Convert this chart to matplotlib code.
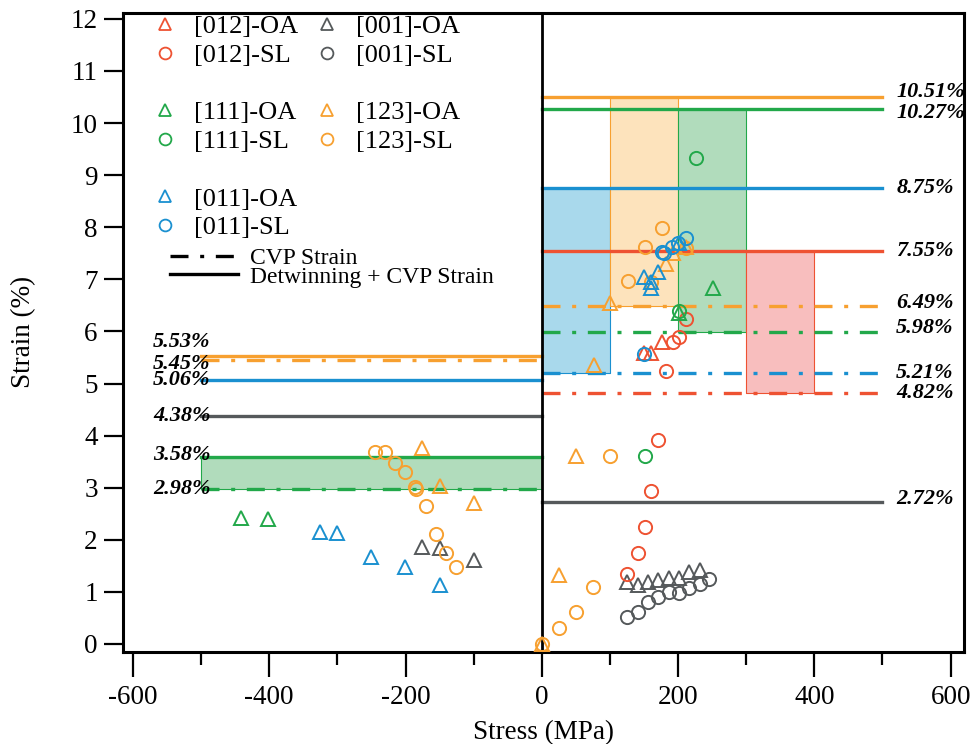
import numpy as np
import matplotlib.pyplot as plt
from matplotlib.lines import Line2D

plt.rcParams['font.family'] = ['Liberation Serif', 'DejaVu Serif']
plt.rcParams['axes.unicode_minus'] = False

RED = '#EE5232'
GRAY = '#55595B'
GREEN = '#22A84A'
ORANGE = '#F7A030'
BLUE = '#1A90D0'

# strain levels (right = tension side, left = compression side)
right_vals = [10.51, 10.27, 8.75, 7.55, 6.49, 5.98, 5.21, 4.82, 2.72]
right_cols = [ORANGE, GREEN, BLUE, RED, ORANGE, GREEN, BLUE, RED, GRAY]
right_solid = [True, True, True, True, False, False, False, False, True]

left_vals = [5.53, 5.45, 5.06, 4.38, 3.58, 2.98]
left_cols = [ORANGE, ORANGE, BLUE, GRAY, GREEN, GREEN]
left_solid = [True, False, True, True, True, False]

# shaded bands: x0, x1, y0, y1, colour
bands = [
    (0, 100, 5.21, 8.75, '#A9D9EC', BLUE),
    (100, 200, 6.49, 10.51, '#FDE3BC', ORANGE),
    (200, 300, 5.98, 10.27, '#B1DCBC', GREEN),
    (300, 400, 4.82, 7.55, '#F8BEBE', RED),
    (-500, 0, 2.98, 3.58, '#B1DCBC', GREEN),
]

# experimental points
x012_oa = [176, 150, 161]
y012_oa = [5.80, 5.59, 5.59]
x012_sl = [170, 161, 151, 141, 125, 211, 201, 192, 182]
y012_sl = [3.92, 2.94, 2.25, 1.75, 1.34, 6.24, 5.89, 5.80, 5.24]

x001_oa = [-176, -150, -100, 125, 141, 156, 170, 186, 201, 216, 232]
y001_oa = [1.86, 1.84, 1.61, 1.18, 1.13, 1.19, 1.23, 1.26, 1.26, 1.38, 1.42]
x001_sl = [125, 141, 156, 170, 186, 201, 216, 232, 246]
y001_sl = [0.52, 0.61, 0.81, 0.91, 1.00, 0.98, 1.07, 1.15, 1.25]

x111_oa = [-442, -402, 251, 201]
y111_oa = [2.42, 2.40, 6.84, 6.36]
x111_sl = [151, 226, 201]
y111_sl = [3.60, 9.33, 6.40]

x123_oa = [0, 25, 50, 76, 100, 182, 192, 212, -176, -150, -100]
y123_oa = [0, 1.33, 3.60, 5.36, 6.55, 7.29, 7.51, 7.62, 3.76, 3.03, 2.71]
x123_sl = [0, 25, 50, 75, 100, 126, 151, 161, 176, 211,
           -245, -230, -216, -201, -186, -184, -170, -155, -141, -126]
y123_sl = [0, 0.31, 0.61, 1.10, 3.61, 6.97, 7.63, 6.95, 7.99, 7.60,
           3.69, 3.69, 3.47, 3.31, 3.02, 2.98, 2.65, 2.11, 1.74, 1.48]

x011_oa = [-326, -301, -251, -201, -150, 150, 170, 161, 161, 201]
y011_oa = [2.15, 2.13, 1.67, 1.48, 1.13, 7.05, 7.14, 6.95, 6.84, 7.70]
x011_sl = [176, 180, 191, 200, 211, 150]
y011_sl = [7.53, 7.50, 7.62, 7.70, 7.80, 5.57]

fig = plt.figure(figsize=(9.74, 7.44), dpi=100)
ax = fig.add_axes([0.126, 0.124, 0.864, 0.859])

dashdot = (0, (5.4, 3.5, 1.2, 3.5))
lw = 2.4

for x0, x1, y0, y1, fc, ec in bands:
    ax.fill_between([x0, x1], y0, y1, facecolor=fc, edgecolor=ec, lw=0.8, zorder=1)

for v, c, s in zip(right_vals, right_cols, right_solid):
    ax.plot([0, 500], [v, v], color=c, lw=lw, ls='-' if s else dashdot, zorder=2)
for v, c, s in zip(left_vals, left_cols, left_solid):
    ax.plot([-500, 0], [v, v], color=c, lw=lw, ls='-' if s else dashdot, zorder=2)

# value labels
lab_kw = dict(fontsize=16, fontweight='bold', fontstyle='italic', va='center')
right_shift = {10.51: 0.08, 10.27: -0.07, 6.49: 0.05, 5.98: 0.08, 2.72: 0.07}
for v in right_vals:
    ax.text(520, v + right_shift.get(v, 0), '%.2f%%' % v, ha='left', **lab_kw)
left_shift = {5.53: 0.26, 5.45: -0.08, 3.58: 0.05}
for v in left_vals:
    ax.text(-486, v + left_shift.get(v, 0), '%.2f%%' % v, ha='right', **lab_kw)

ax.axvline(0, color='black', lw=2, zorder=3)

mk = dict(ls='none', mfc='none', ms=9.5, mew=1.4, zorder=4)
ax.plot(x001_sl, y001_sl, marker='o', color=GRAY, **mk)
ax.plot(x001_oa, y001_oa, marker='^', color=GRAY, **mk)
ax.plot(x012_sl, y012_sl, marker='o', color=RED, **mk)
ax.plot(x012_oa, y012_oa, marker='^', color=RED, **mk)
ax.plot(x111_sl, y111_sl, marker='o', color=GREEN, **mk)
ax.plot(x111_oa, y111_oa, marker='^', color=GREEN, **mk)
ax.plot(x123_sl, y123_sl, marker='o', color=ORANGE, **mk)
ax.plot(x123_oa, y123_oa, marker='^', color=ORANGE, **mk)
ax.plot(x011_sl, y011_sl, marker='o', color=BLUE, **mk)
ax.plot(x011_oa, y011_oa, marker='^', color=BLUE, **mk)

ax.set_xlim(-615, 620)
ax.set_ylim(-0.15, 12.12)
ax.set_xticks(np.arange(-600, 601, 200))
ax.set_xticks(np.arange(-500, 501, 200), minor=True)
ax.set_yticks(np.arange(0, 13, 1))
ax.tick_params(axis='both', direction='out', labelsize=19.5, width=1.6, colors='black')
ax.tick_params(axis='x', which='major', length=18, pad=6)
ax.tick_params(axis='x', which='minor', length=9, width=1.6)
ax.tick_params(axis='y', which='major', length=14, pad=4)
for sp in ax.spines.values():
    sp.set_linewidth(2.2)
ax.set_xlabel('Stress (MPa)', fontsize=19.5, labelpad=7)
ax.set_ylabel('Strain (%)', fontsize=19.5, labelpad=25)

def mh(m, c):
    return Line2D([], [], ls='none', marker=m, mfc='none', mec=c, ms=8.5, mew=1.3)

blank = Line2D([], [], ls='none')
handles = [mh('^', RED), mh('o', RED), blank, mh('^', GREEN), mh('o', GREEN), blank,
           mh('^', BLUE), mh('o', BLUE),
           mh('^', GRAY), mh('o', GRAY), blank, mh('^', ORANGE), mh('o', ORANGE),
           blank, blank, blank]
labels = ['[012]-OA', '[012]-SL', ' ', '[111]-OA', '[111]-SL', ' ', '[011]-OA', '[011]-SL',
          '[001]-OA', '[001]-SL', ' ', '[123]-OA', '[123]-SL', ' ', ' ', ' ']
leg1 = ax.legend(handles, labels, ncol=2, loc='upper left', bbox_to_anchor=(0.028, 1.005),
                 frameon=False, fontsize=19, handlelength=1.0, handletextpad=0.6,
                 columnspacing=0.6, labelspacing=0.2, borderpad=0.2, borderaxespad=0)
ax.add_artist(leg1)

lh = [Line2D([], [], color='black', lw=2.4, ls=dashdot), Line2D([], [], color='black', lw=2.4)]
ax.legend(lh, ['CVP Strain', 'Detwinning + CVP Strain'], loc='upper left',
          bbox_to_anchor=(0.05, 0.64), frameon=False, fontsize=17, handlelength=2.9,
          handletextpad=0.5, labelspacing=-0.12, borderpad=0.2, borderaxespad=0)

fig.savefig('out.png', dpi=100)
